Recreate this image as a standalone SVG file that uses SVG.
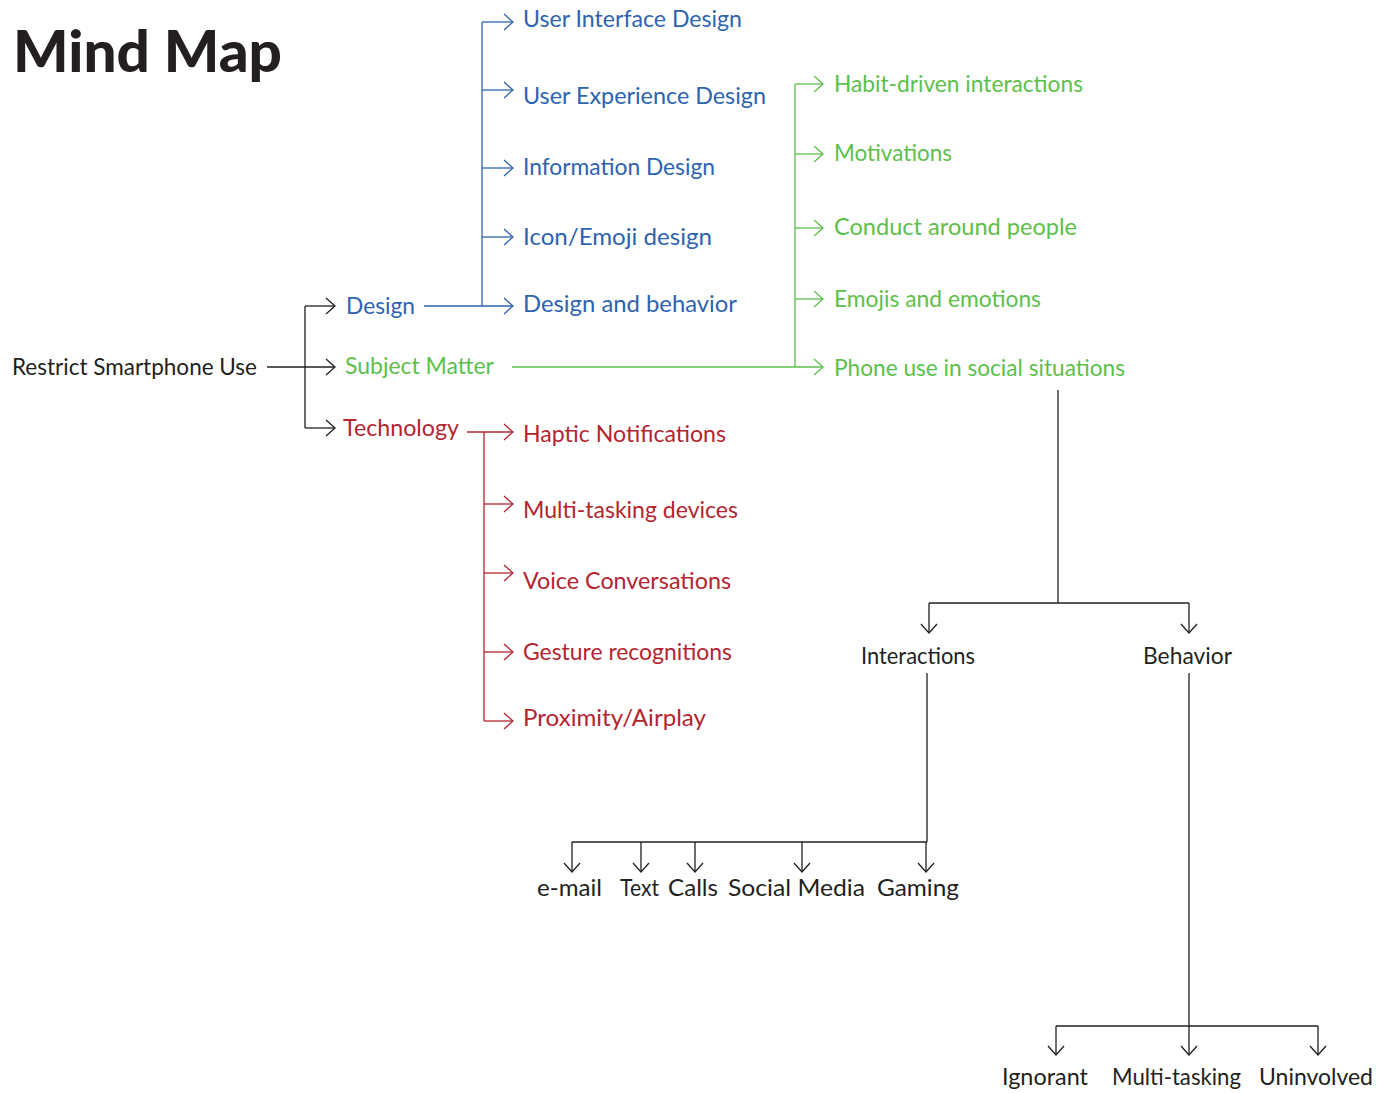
<svg xmlns="http://www.w3.org/2000/svg" width="1390" height="1093" viewBox="0 0 1390 1093">
  <defs>
    <style>
      text { font-family: "Lato", "Liberation Sans", sans-serif; font-size: 23px; }
      .title { font-size: 58px; font-weight: 900; fill: #231f20; }
      .k { fill: #231f20; }
      .b { fill: #2e63b0; }
      .g { fill: #5dbf4b; }
      .r { fill: #b32530; }
      .ck { stroke: #231f20; }
      .cb { stroke: #2e63b0; }
      .cg { stroke: #5dbf4b; }
      .cr { stroke: #b32530; }
      #connectors path { fill: none; stroke-width: 1.3; }
    </style>
    <marker id="ah-k" markerUnits="userSpaceOnUse" orient="auto" markerWidth="20" markerHeight="20" viewBox="-10 -10 20 20" refX="0" refY="0">
      <path d="M-9,-8 L0,0 L-9,8" fill="none" stroke="#231f20" stroke-width="1.3"/>
    </marker>
    <marker id="ah-b" markerUnits="userSpaceOnUse" orient="auto" markerWidth="20" markerHeight="20" viewBox="-10 -10 20 20" refX="0" refY="0">
      <path d="M-9,-8 L0,0 L-9,8" fill="none" stroke="#2e63b0" stroke-width="1.3"/>
    </marker>
    <marker id="ah-g" markerUnits="userSpaceOnUse" orient="auto" markerWidth="20" markerHeight="20" viewBox="-10 -10 20 20" refX="0" refY="0">
      <path d="M-9,-8 L0,0 L-9,8" fill="none" stroke="#5dbf4b" stroke-width="1.3"/>
    </marker>
    <marker id="ah-r" markerUnits="userSpaceOnUse" orient="auto" markerWidth="20" markerHeight="20" viewBox="-10 -10 20 20" refX="0" refY="0">
      <path d="M-9,-8 L0,0 L-9,8" fill="none" stroke="#b32530" stroke-width="1.3"/>
    </marker>
  </defs>

  <rect width="1390" height="1093" fill="#ffffff"/>

  <text class="title" x="13" y="72" textLength="269" lengthAdjust="spacingAndGlyphs">Mind Map</text>

  <g id="connectors">
    <!-- root fan-out -->
    <path class="ck" d="M267,367 H335" marker-end="url(#ah-k)"/>
    <path class="ck" d="M305,306 V428"/>
    <path class="ck" d="M305,306 H335" marker-end="url(#ah-k)"/>
    <path class="ck" d="M305,428 H335" marker-end="url(#ah-k)"/>
    <!-- design branch -->
    <path class="cb" d="M424,306 H513" marker-end="url(#ah-b)"/>
    <path class="cb" d="M482,22 V306"/>
    <path class="cb" d="M482,22 H513" marker-end="url(#ah-b)"/>
    <path class="cb" d="M482,90 H513" marker-end="url(#ah-b)"/>
    <path class="cb" d="M482,168 H513" marker-end="url(#ah-b)"/>
    <path class="cb" d="M482,237 H513" marker-end="url(#ah-b)"/>
    <!-- subject matter branch -->
    <path class="cg" d="M512,367 H823" marker-end="url(#ah-g)"/>
    <path class="cg" d="M795,84 V367"/>
    <path class="cg" d="M795,84 H823" marker-end="url(#ah-g)"/>
    <path class="cg" d="M795,154 H823" marker-end="url(#ah-g)"/>
    <path class="cg" d="M795,228 H823" marker-end="url(#ah-g)"/>
    <path class="cg" d="M795,299 H823" marker-end="url(#ah-g)"/>
    <!-- technology branch -->
    <path class="cr" d="M467,432 H513" marker-end="url(#ah-r)"/>
    <path class="cr" d="M484,432 V721"/>
    <path class="cr" d="M484,504 H513" marker-end="url(#ah-r)"/>
    <path class="cr" d="M484,573 H513" marker-end="url(#ah-r)"/>
    <path class="cr" d="M484,652 H513" marker-end="url(#ah-r)"/>
    <path class="cr" d="M484,721 H513" marker-end="url(#ah-r)"/>
    <!-- social situations split -->
    <path class="ck" d="M1058,390 V603"/>
    <path class="ck" d="M929,603 H1189"/>
    <path class="ck" d="M929,603 V633" marker-end="url(#ah-k)"/>
    <path class="ck" d="M1189,603 V633" marker-end="url(#ah-k)"/>
    <!-- interactions -->
    <path class="ck" d="M927,673 V842"/>
    <path class="ck" d="M572,842 H927"/>
    <path class="ck" d="M572,842 V872" marker-end="url(#ah-k)"/>
    <path class="ck" d="M641,842 V872" marker-end="url(#ah-k)"/>
    <path class="ck" d="M695,842 V872" marker-end="url(#ah-k)"/>
    <path class="ck" d="M802,842 V872" marker-end="url(#ah-k)"/>
    <path class="ck" d="M926,842 V872" marker-end="url(#ah-k)"/>
    <!-- behavior -->
    <path class="ck" d="M1189,673 V1055" marker-end="url(#ah-k)"/>
    <path class="ck" d="M1056,1026 H1318"/>
    <path class="ck" d="M1056,1026 V1055" marker-end="url(#ah-k)"/>
    <path class="ck" d="M1318,1026 V1055" marker-end="url(#ah-k)"/>
  </g>

  <g id="node-root"><text class="k" x="12" y="375" textLength="245" lengthAdjust="spacingAndGlyphs">Restrict Smartphone Use</text></g>

  <g id="node-design"><text class="b" x="346" y="314" textLength="69" lengthAdjust="spacingAndGlyphs">Design</text></g>
  <g id="node-subject"><text class="g" x="345" y="374" textLength="149" lengthAdjust="spacingAndGlyphs">Subject Matter</text></g>
  <g id="node-technology"><text class="r" x="343" y="436" textLength="116" lengthAdjust="spacingAndGlyphs">Technology</text></g>

  <g id="node-ui"><text class="b" x="523" y="27" textLength="219" lengthAdjust="spacingAndGlyphs">User Interface Design</text></g>
  <g id="node-ux"><text class="b" x="523" y="104" textLength="243" lengthAdjust="spacingAndGlyphs">User Experience Design</text></g>
  <g id="node-info"><text class="b" x="523" y="175" textLength="192" lengthAdjust="spacingAndGlyphs">Information Design</text></g>
  <g id="node-icon"><text class="b" x="523" y="245" textLength="189" lengthAdjust="spacingAndGlyphs">Icon/Emoji design</text></g>
  <g id="node-design-behavior"><text class="b" x="523" y="312" textLength="214" lengthAdjust="spacingAndGlyphs">Design and behavior</text></g>

  <g id="node-habit"><text class="g" x="834" y="92" textLength="249" lengthAdjust="spacingAndGlyphs">Habit-driven interactions</text></g>
  <g id="node-motivations"><text class="g" x="834" y="161" textLength="118" lengthAdjust="spacingAndGlyphs">Motivations</text></g>
  <g id="node-conduct"><text class="g" x="834" y="235" textLength="243" lengthAdjust="spacingAndGlyphs">Conduct around people</text></g>
  <g id="node-emojis"><text class="g" x="834" y="307" textLength="207" lengthAdjust="spacingAndGlyphs">Emojis and emotions</text></g>
  <g id="node-phone"><text class="g" x="834" y="376" textLength="291" lengthAdjust="spacingAndGlyphs">Phone use in social situations</text></g>

  <g id="node-haptic"><text class="r" x="523" y="442" textLength="203" lengthAdjust="spacingAndGlyphs">Haptic Notifications</text></g>
  <g id="node-multidevices"><text class="r" x="523" y="518" textLength="215" lengthAdjust="spacingAndGlyphs">Multi-tasking devices</text></g>
  <g id="node-voice"><text class="r" x="523" y="589" textLength="208" lengthAdjust="spacingAndGlyphs">Voice Conversations</text></g>
  <g id="node-gesture"><text class="r" x="523" y="660" textLength="209" lengthAdjust="spacingAndGlyphs">Gesture recognitions</text></g>
  <g id="node-proximity"><text class="r" x="523" y="726" textLength="183" lengthAdjust="spacingAndGlyphs">Proximity/Airplay</text></g>

  <g id="node-interactions"><text class="k" x="861" y="664" textLength="114" lengthAdjust="spacingAndGlyphs">Interactions</text></g>
  <g id="node-behavior"><text class="k" x="1143" y="664" textLength="89" lengthAdjust="spacingAndGlyphs">Behavior</text></g>

  <g id="node-email"><text class="k" x="537" y="896" textLength="65" lengthAdjust="spacingAndGlyphs">e-mail</text></g>
  <g id="node-text"><text class="k" x="620" y="896" textLength="39" lengthAdjust="spacingAndGlyphs">Text</text></g>
  <g id="node-calls"><text class="k" x="668" y="896" textLength="50" lengthAdjust="spacingAndGlyphs">Calls</text></g>
  <g id="node-social"><text class="k" x="728" y="896" textLength="137" lengthAdjust="spacingAndGlyphs">Social Media</text></g>
  <g id="node-gaming"><text class="k" x="877" y="896" textLength="82" lengthAdjust="spacingAndGlyphs">Gaming</text></g>

  <g id="node-ignorant"><text class="k" x="1002" y="1085" textLength="86" lengthAdjust="spacingAndGlyphs">Ignorant</text></g>
  <g id="node-multitasking"><text class="k" x="1112" y="1085" textLength="129" lengthAdjust="spacingAndGlyphs">Multi-tasking</text></g>
  <g id="node-uninvolved"><text class="k" x="1259" y="1085" textLength="114" lengthAdjust="spacingAndGlyphs">Uninvolved</text></g>
</svg>
